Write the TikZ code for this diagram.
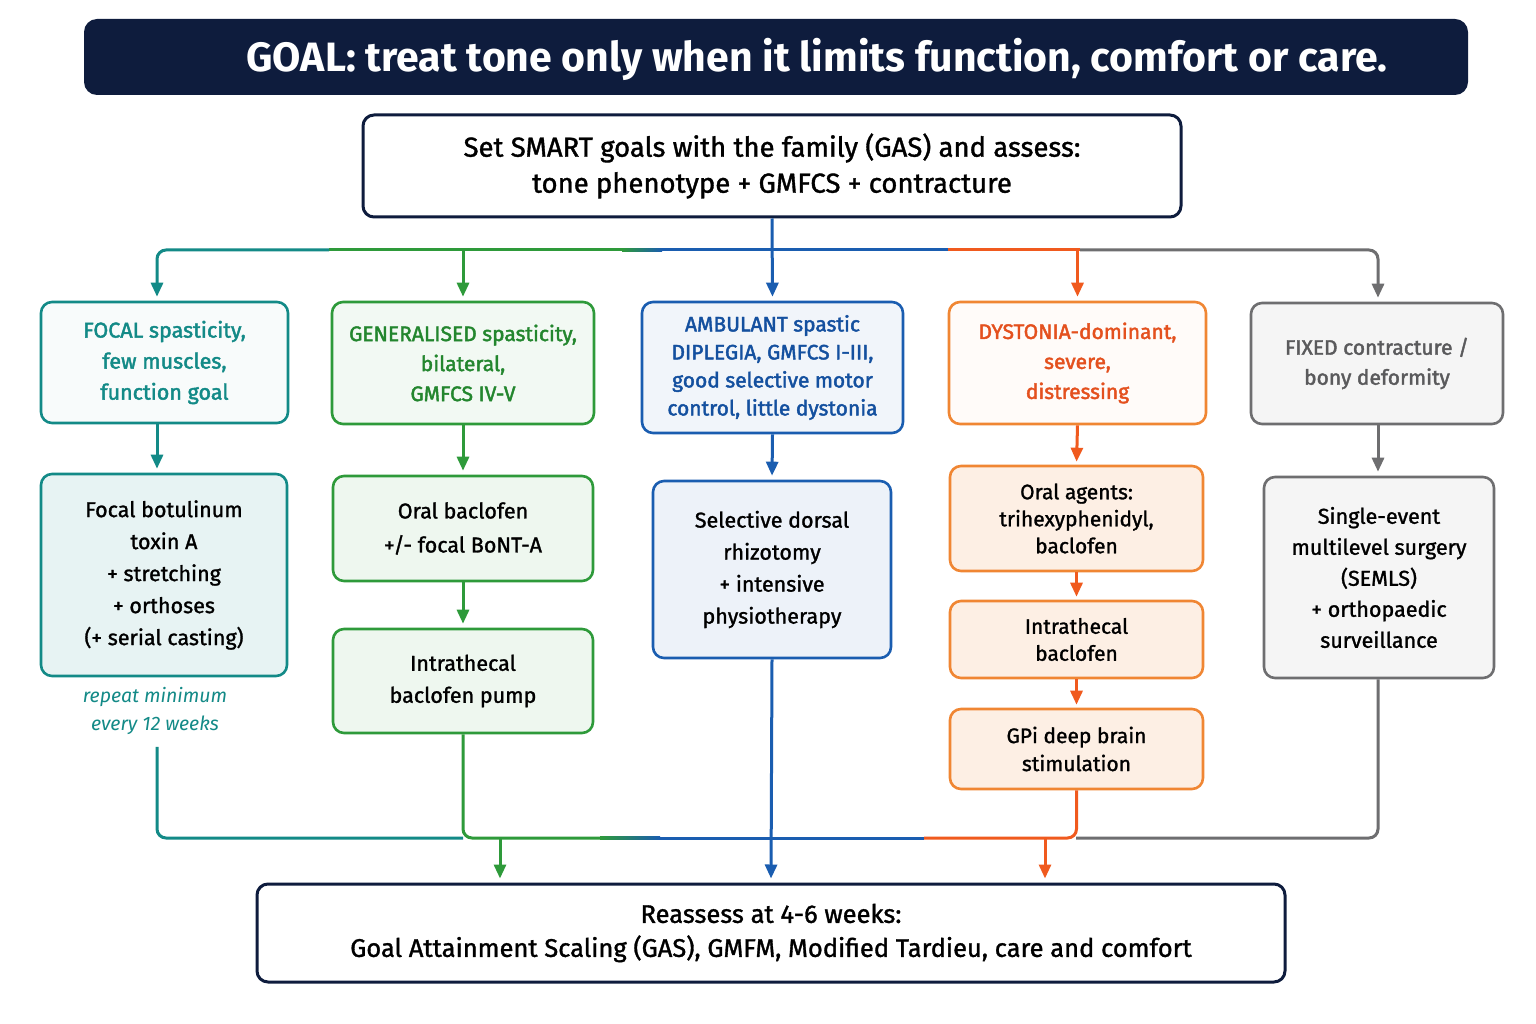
\documentclass[tikz,border=0pt]{standalone}
\usepackage{fontspec}
\setmainfont{Fira Sans}[UprightFeatures={FakeBold=1.3}]
\newfontfamily\hdfont{Fira Sans}[UprightFeatures={FakeBold=2.0}]
\usetikzlibrary{arrows.meta}
\definecolor{navy}{HTML}{0E1C3D}
\definecolor{cteal}{HTML}{138A87}
\definecolor{cgreen}{HTML}{2E9A3A}
\definecolor{cgreentx}{HTML}{23862E}
\definecolor{cblue}{HTML}{1A5DB0}
\definecolor{cbluetx}{HTML}{14509F}
\definecolor{corange}{HTML}{F08633}
\definecolor{corangeln}{HTML}{F05A1E}
\definecolor{corangetx}{HTML}{E4501E}
\definecolor{cgray}{HTML}{6E6E70}
\definecolor{cgraytx}{HTML}{5A5A5C}
\tikzset{
  bx/.style={draw, rounded corners=11pt, line width=2.6pt, align=center, inner sep=0pt},
  hd/.style={bx, font=\hdfont\fontsize{21}{30}\selectfont},
  bd/.style={bx, text=black, font=\fontsize{21.5}{32}\selectfont},
  ln/.style={line width=3pt},
  arr/.style={ln, -{Triangle[length=14pt,width=12pt]}},
}
\begin{document}
\begin{tikzpicture}[x=1pt,y=-1pt]
\useasboundingbox[fill=white] (0,0) rectangle (1536,1024);
% title
\node[fill=navy, rounded corners=13pt, minimum width=1384, minimum height=76, inner sep=0pt] (title) at (776,57) {};
\node[text=white, font=\bfseries\fontsize{41}{44}\selectfont, inner sep=0pt] (titletx) at (817,59) {GOAL: treat tone only when it limits function, comfort or care.};
% top box
\node[bx, draw=navy, line width=3pt, fill=white, minimum width=818, minimum height=102, font=\fontsize{27.5}{36}\selectfont] (top) at (772,166) {Set SMART goals with the family (GAS) and assess:\\tone phenotype + GMFCS + contracture};
% row 1
\node[hd, draw=cteal, fill=cteal!3, text=cteal, minimum width=247, minimum height=121, font=\hdfont\fontsize{21.5}{31}\selectfont] (h1) at (164.5,362.5) {FOCAL spasticity,\\few muscles,\\function goal};
\node[hd, draw=cgreen, fill=cgreen!6, text=cgreentx, minimum width=262, minimum height=122] (h2) at (463,363) {GENERALISED spasticity,\\bilateral,\\GMFCS IV-V};
\node[hd, draw=cblue, fill=cblue!6, text=cbluetx, minimum width=261, minimum height=131, font=\hdfont\fontsize{21}{28}\selectfont] (h3) at (772.5,367.5) {AMBULANT spastic\\DIPLEGIA, GMFCS I-III,\\good selective motor\\control, little dystonia};
\node[hd, draw=corange, fill=corange!3, text=corangetx, minimum width=257, minimum height=122] (h4) at (1077.5,363) {DYSTONIA-dominant,\\severe,\\distressing};
\node[hd, draw=cgray, fill=gray!8, text=cgraytx, minimum width=252, minimum height=121] (h5) at (1377,363.5) {FIXED contracture /\\bony deformity};
% row 2
\node[bd, draw=cteal, fill=cteal!10, minimum width=246, minimum height=202] (t1) at (164,575) {Focal botulinum\\toxin A\\+ stretching\\+ orthoses\\(+ serial casting)};
\node[font=\itshape\fontsize{19.5}{28}\selectfont, text=cteal, align=center, inner sep=0pt] (note) at (155,711) {repeat minimum\\every 12 weeks};
\node[bd, draw=cgreen, fill=cgreen!8, minimum width=260, minimum height=105, font=\fontsize{21.5}{34}\selectfont] (g1) at (463,528.5) {Oral baclofen\\+/- focal BoNT-A};
\node[bd, draw=cgreen, fill=cgreen!8, minimum width=260, minimum height=104] (g2) at (463,681) {Intrathecal\\baclofen pump};
\node[bd, draw=cblue, fill=cblue!8, minimum width=238, minimum height=177] (b1) at (772,569.5) {Selective dorsal\\rhizotomy\\+ intensive\\physiotherapy};
\node[bd, draw=corange, fill=corange!13, minimum width=253, minimum height=105, font=\fontsize{21}{27}\selectfont] (o1) at (1076.5,518.5) {Oral agents:\\trihexyphenidyl,\\baclofen};
\node[bd, draw=corange, fill=corange!13, minimum width=253, minimum height=77, font=\fontsize{21}{27}\selectfont] (o2) at (1076.5,639.5) {Intrathecal\\baclofen};
\node[bd, draw=corange, fill=corange!13, minimum width=253, minimum height=80, font=\fontsize{21}{28}\selectfont] (o3) at (1076.5,749) {GPi deep brain\\stimulation};
\node[bd, draw=cgray, fill=gray!8, minimum width=230, minimum height=201, font=\fontsize{21.5}{31}\selectfont] (s1) at (1379,577.5) {Single-event\\multilevel surgery\\(SEMLS)\\+ orthopaedic\\surveillance};
% bottom box
\node[bx, draw=navy, line width=3pt, fill=white, minimum width=1028, minimum height=98, font=\fontsize{25.5}{34}\selectfont] (bot) at (771,933) {Reassess at 4-6 weeks:\\Goal Attainment Scaling (GAS), GMFM, Modified Tardieu, care and comfort};
% top branch
\coordinate (jt0) at (157,250);
\coordinate (jt1) at (329,250);
\coordinate (jg1) at (622,250);
\coordinate (jb1) at (662,250);
\coordinate (jb2) at (948,250);
\coordinate (jo2) at (1080,250);
\coordinate (jr) at (1378,250);
\draw[arr, cblue, shorten >=4pt] (top.south) -- (h3.north);
\draw[ln, cblue] (jb1) -- (jb2);
\shade[left color=cgreen, right color=cblue] (622,248.5) rectangle (662,251.5);
\draw[ln, cgreen] (jt1) -- (jg1);
\draw[ln, corangeln] (jb2) -- (jo2);
\draw[arr, cteal, rounded corners=9pt, shorten >=4pt] (jt1) -| (jt0 |- h1.north);
\draw[arr, cgreen, shorten >=4pt] (h2.north |- jt1) -- (h2.north);
\draw[arr, corangeln, shorten >=4pt] (h4.north |- jb2) -- (h4.north);
\draw[arr, cgray, rounded corners=9pt, shorten >=4pt] (jo2) -| (jr |- h5.north);
% row 1 to row 2
\draw[arr, cteal, shorten >=4pt] (jt0 |- h1.south) -- (jt0 |- t1.north);
\draw[arr, cgreen, shorten >=4pt] (h2.south) -- (g1.north);
\draw[arr, cgreen, shorten >=4pt] (g1.south) -- (g2.north);
\draw[arr, cblue, shorten >=4pt] (h3.south) -- (b1.north);
\draw[arr, corangeln, shorten >=3pt] (h4.south) -- (o1.north);
\draw[arr, corangeln, shorten >=3pt] (o1.south) -- (o2.north);
\draw[arr, corangeln, shorten >=3pt] (o2.south) -- (o3.north);
\draw[arr, cgray, shorten >=4pt] (jr |- h5.south) -- (jr |- s1.north);
% bottom merge
\coordinate (mg1) at (600,838);
\coordinate (mb1) at (660,838);
\coordinate (mb2) at (924,838);
\coordinate (mo2) at (1076,838);
\coordinate (ag) at (500,838);
\coordinate (ao) at (1045,838);
\draw[ln, cteal, rounded corners=9pt, shorten <=12pt] (jt0 |- note.south) |- (g2.south |- mg1);
\draw[ln, cgreen, rounded corners=9pt] (g2.south) |- (mg1);
\shade[left color=cgreen, right color=cblue] (600,836.5) rectangle (660,839.5);
\draw[ln, cblue] (mb1) -- (mb2);
\draw[ln, corangeln, rounded corners=9pt] (o3.south) |- (mb2);
\draw[ln, cgray, rounded corners=9pt] (jr |- s1.south) |- (mo2);
\draw[arr, cblue, shorten >=4pt] (b1.south) -- (bot.north);
\draw[arr, cgreen, shorten >=4pt] (ag) -- (ag |- bot.north);
\draw[arr, corangeln, shorten >=4pt] (ao) -- (ao |- bot.north);
\end{tikzpicture}
\end{document}
